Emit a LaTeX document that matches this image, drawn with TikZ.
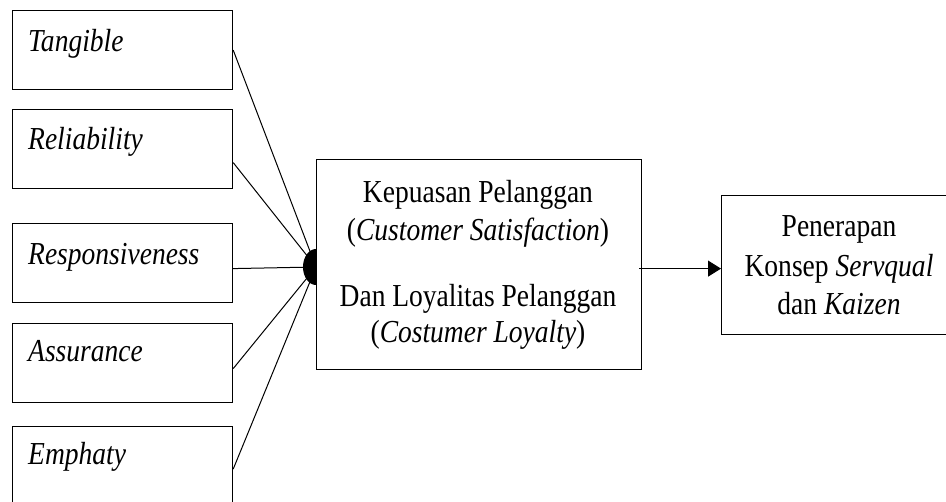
\documentclass[tikz,border=0pt]{standalone}
\usepackage{fontspec}
\setmainfont[FakeStretch=0.86]{Liberation Serif}
\usetikzlibrary{arrows.meta}
\begin{document}
\begin{tikzpicture}[x=1pt,y=-1pt,
  box/.style={draw, line width=1.2pt, anchor=north west, inner sep=0pt},
  lbl/.style={anchor=base west, inner sep=0pt, font=\fontsize{32}{38}\selectfont\itshape},
  ctext/.style={anchor=base, inner sep=0pt, font=\fontsize{32}{38}\selectfont},
  conn/.style={line width=1pt}]
\useasboundingbox (0,0) rectangle (946,502);
\clip (0,0) rectangle (946,502);
% left boxes
\node[box, minimum width=220pt, minimum height=79pt] (b1) at (12,10) {};
\node[box, minimum width=220pt, minimum height=79pt] (b2) at (12,109) {};
\node[box, minimum width=220pt, minimum height=79pt] (b3) at (12,223) {};
\node[box, minimum width=220pt, minimum height=79pt] (b4) at (12,323) {};
\node[box, minimum width=220pt, minimum height=79pt] (b5) at (12,426) {};
\node[lbl] (t1) at (28,52) {Tangible};
\node[lbl] (t2) at (28,150) {Reliability};
\node[lbl] (t3) at (28,265) {Responsiveness};
\node[lbl] (t4) at (28,362) {Assurance};
\node[lbl] (t5) at (28,465) {Emphaty};
% middle box
\node[box, minimum width=325pt, minimum height=210pt] (m) at (316,159) {};
\node[ctext] (m1) at (478,203) {Kepuasan Pelanggan};
\node[ctext] (m2) at (478,241) {(\textit{Customer Satisfaction})};
\node[ctext] (m3) at (478,307) {Dan Loyalitas Pelanggan};
\node[ctext] (m4) at (478,343) {(\textit{Costumer Loyalty})};
% right box
\node[box, minimum width=240pt, minimum height=139pt] (r) at (721,195) {};
\node[ctext] (r1) at (839,237) {Penerapan};
\node[ctext] (r2) at (839,277) {Konsep \textit{Servqual}};
\node[ctext] (r3) at (839,315) {dan \textit{Kaizen}};
% convergence
\coordinate (c) at (316,267);
\draw[conn] (b1.east) -- (c);
\draw[conn] ([yshift=-13.5pt]b2.east) -- (c);
\draw[conn] ([yshift=-5.5pt]b3.east) -- (c);
\draw[conn] ([yshift=-5.5pt]b4.east) -- (c);
\draw[conn] ([yshift=-3pt]b5.east) -- (c);
\begin{scope}
\clip (290,240) rectangle (316,300);
\fill (316,267) ellipse [x radius=13pt, y radius=18pt];
\end{scope}
% arrow
\draw[conn, -{Triangle[length=13pt,width=16pt]}] ([yshift=-4pt,xshift=-3pt]m.east) -- ([yshift=-4pt]m.east -| r.west);
\end{tikzpicture}
\end{document}
